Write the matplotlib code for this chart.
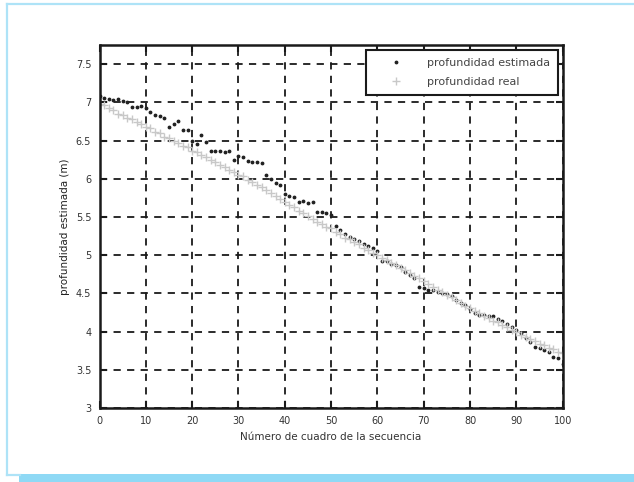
import matplotlib
matplotlib.use('Agg')
import matplotlib.pyplot as plt
from matplotlib.lines import Line2D
from matplotlib.patches import Rectangle

# frame index 0..100
frames = list(range(101))

# estimated depth (m)
est_depth = [
    7.08, 7.06, 7.04, 7.03, 7.04, 7.02, 7.00, 6.94, 6.94, 6.95, 6.92,
    6.87, 6.84, 6.82, 6.79, 6.68, 6.72, 6.76, 6.64, 6.64, 6.50,
    6.45, 6.57, 6.48, 6.37, 6.36, 6.36, 6.35, 6.36, 6.25, 6.30,
    6.28, 6.23, 6.22, 6.22, 6.21, 6.05, 6.00, 5.94, 5.92, 5.80,
    5.78, 5.76, 5.70, 5.71, 5.68, 5.70, 5.57, 5.56, 5.55, 5.52,
    5.38, 5.33, 5.28, 5.24, 5.21, 5.18, 5.15, 5.12, 5.09, 5.05,
    4.93, 4.92, 4.88, 4.87, 4.85, 4.78, 4.74, 4.70, 4.58, 4.57,
    4.54, 4.55, 4.52, 4.50, 4.49, 4.46, 4.42, 4.38, 4.35, 4.30,
    4.24, 4.22, 4.22, 4.21, 4.20, 4.17, 4.14, 4.10, 4.06, 4.02,
    3.98, 3.91, 3.87, 3.80, 3.78, 3.76, 3.73, 3.67, 3.65, 3.57,
]

# real depth (m)
real_depth = [
    6.98, 6.96, 6.92, 6.90, 6.85, 6.84, 6.80, 6.78, 6.74, 6.72, 6.68,
    6.66, 6.61, 6.60, 6.55, 6.53, 6.49, 6.47, 6.43, 6.41, 6.37,
    6.35, 6.31, 6.29, 6.24, 6.22, 6.18, 6.16, 6.11, 6.09, 6.05,
    6.03, 5.99, 5.96, 5.92, 5.89, 5.85, 5.82, 5.78, 5.74, 5.70,
    5.66, 5.63, 5.58, 5.55, 5.51, 5.48, 5.44, 5.41, 5.37, 5.35,
    5.31, 5.28, 5.23, 5.21, 5.17, 5.14, 5.10, 5.07, 5.03, 5.00,
    4.96, 4.94, 4.90, 4.87, 4.83, 4.81, 4.77, 4.73, 4.70, 4.66,
    4.62, 4.59, 4.55, 4.52, 4.48, 4.45, 4.41, 4.38, 4.34, 4.31,
    4.27, 4.25, 4.21, 4.18, 4.14, 4.12, 4.08, 4.06, 4.02, 3.99,
    3.96, 3.93, 3.90, 3.88, 3.84, 3.82, 3.79, 3.77, 3.73, 3.72,
]

x_ticks = [0, 10, 20, 30, 40, 50, 60, 70, 80, 90, 100]
y_ticks = [3, 3.5, 4, 4.5, 5, 5.5, 6, 6.5, 7, 7.5]
y_tick_labels = ['3', '3.5', '4', '4.5', '5', '5.5', '6', '6.5', '7', '7.5']

fig = plt.figure(figsize=(6.34, 4.82), dpi=100)
ax = fig.add_axes([0.157, 0.1535, 0.7305, 0.753])

# light blue page frame
blue_thin = '#aee3f7'
blue_bar = '#8fd9f5'
fig.add_artist(Line2D([6.5/634, 6.5/634], [1 - 3.5/482, 1 - 475/482],
                      transform=fig.transFigure, color=blue_thin, lw=1.6))
fig.add_artist(Line2D([6.5/634, 1.0], [1 - 3.5/482, 1 - 3.5/482],
                      transform=fig.transFigure, color=blue_thin, lw=1.6))
fig.add_artist(Line2D([6.5/634, 20/634], [1 - 475/482, 1 - 475/482],
                      transform=fig.transFigure, color=blue_thin, lw=1.6))
fig.add_artist(Rectangle((19/634, 0), 1 - 19/634, 8/482,
                         transform=fig.transFigure, color=blue_bar, lw=0))

ax.plot(frames, est_depth, linestyle='none', marker='.', color='#222222',
        markersize=3.5, label='profundidad estimada')
ax.plot(frames, real_depth, linestyle='none', marker='+', color='#c8c8c8',
        markersize=6, markeredgewidth=1.0, label='profundidad real')

ax.set_xlim(0, 100)
ax.set_ylim(3, 7.75)
ax.set_xticks(x_ticks)
ax.set_yticks(y_ticks)
ax.set_yticklabels(y_tick_labels)

ax.grid(True, color='#1a1a1a', linestyle=(0, (4, 3.5)), linewidth=1.3)
for s in ax.spines.values():
    s.set_linewidth(1.8)
    s.set_color('#1a1a1a')
ax.tick_params(direction='in', length=5, width=1.5, top=True, right=True,
               labelsize=7, colors='#1a1a1a', labelcolor='#333333', pad=6)

ax.set_xlabel('Número de cuadro de la secuencia', fontsize=7.5,
              color='#333333', labelpad=4)
ax.set_ylabel('profundidad estimada (m)', fontsize=7.5, color='#222222',
              labelpad=4)

leg = ax.legend(loc='upper right', fontsize=8, frameon=True, fancybox=False,
                borderaxespad=0.45, handletextpad=0.8, handlelength=4.0,
                borderpad=0.7, labelspacing=0.8, markerscale=1.0)
leg.get_frame().set_edgecolor('#1a1a1a')
leg.get_frame().set_linewidth(1.5)
leg.get_frame().set_alpha(1)
for t in leg.get_texts():
    t.set_color('#444444')

fig.savefig('out.png', dpi=100)
